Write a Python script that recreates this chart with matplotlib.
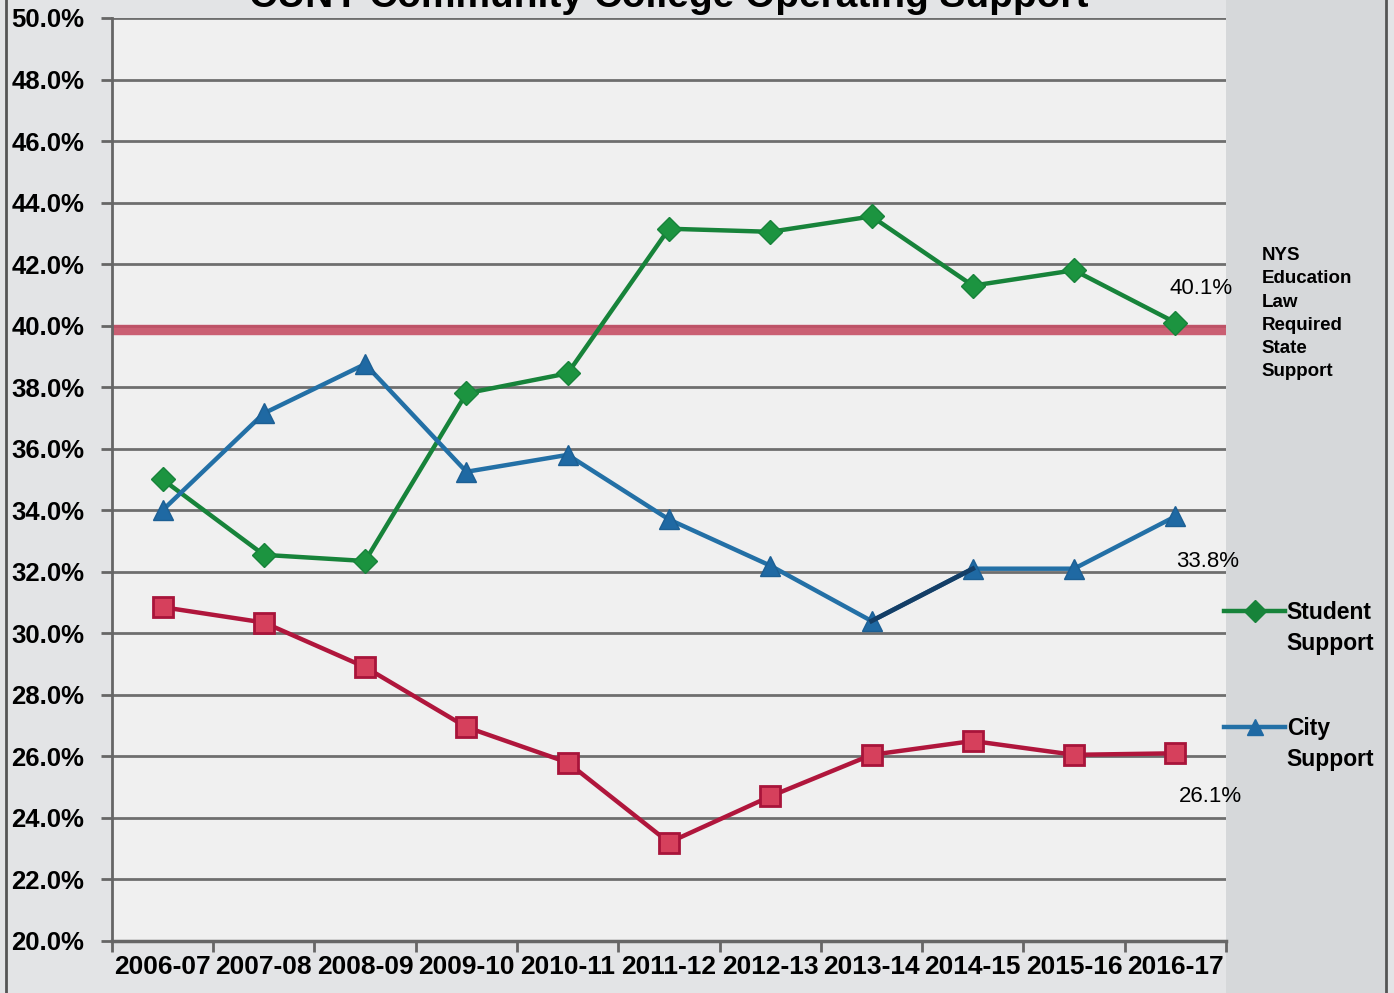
import matplotlib.pyplot as plt
import numpy as np

# data
years = ['2006-07', '2007-08', '2008-09', '2009-10', '2010-11', '2011-12',
         '2012-13', '2013-14', '2014-15', '2015-16', '2016-17']
student = [35.0, 32.55, 32.35, 37.8, 38.45, 43.15, 43.05, 43.55, 41.3, 41.8, 40.1]
city = [34.0, 37.15, 38.75, 35.25, 35.8, 33.7, 32.2, 30.4, 32.1, 32.1, 33.8]
state = [30.85, 30.35, 28.9, 26.95, 25.8, 23.2, 24.7, 26.05, 26.5, 26.05, 26.1]
required = 39.85

plt.rcParams['font.family'] = ['Liberation Sans', 'DejaVu Sans']

fig = plt.figure(figsize=(13.94, 9.93), dpi=100, facecolor='#e3e4e6')
ax = fig.add_axes([0.0803, 0.0524, 0.7992, 0.9295])
ax.set_facecolor('#f0f0f0')
# grey strip right of the plot
fig.patches.append(plt.Rectangle((0.8795, 0.0), 0.115, 1.0, transform=fig.transFigure,
                                 facecolor='#d6d8da', edgecolor='none', zorder=-1))
# outer frame lines
fig.add_artist(plt.Line2D([0.004, 0.004], [0, 1], color='#555555', lw=2))
fig.add_artist(plt.Line2D([0.994, 0.994], [0, 1], color='#555555', lw=2))

x = np.arange(len(years))
ax.set_xlim(-0.5, len(years) - 0.5)
ax.set_ylim(20, 50)
ax.set_yticks(np.arange(20, 50.1, 2))
ax.set_yticklabels(['%.1f%%' % v for v in np.arange(20, 50.1, 2)])
ax.yaxis.grid(True, color='#6e6e6e', lw=2)
ax.set_axisbelow(True)

ax.set_xticks(x)
ax.set_xticklabels(years)
ax.set_xticks(np.arange(-0.5, len(years)), minor=True)
ax.tick_params(axis='x', which='major', length=0, pad=10, labelsize=19)
ax.tick_params(axis='x', which='minor', length=8, width=2, color='#666666')
ax.tick_params(axis='y', length=8, width=2, color='#666666', labelsize=18.5, pad=12)
for lbl in ax.get_xticklabels() + ax.get_yticklabels():
    lbl.set_fontweight('bold')

for s in ['top', 'right']:
    ax.spines[s].set_visible(False)
ax.spines['left'].set_color('#666666')
ax.spines['left'].set_linewidth(2)
ax.spines['bottom'].set_color('#666666')
ax.spines['bottom'].set_linewidth(2.5)

# required state support line
ax.axhline(required, color='#c64f66', lw=7.5, alpha=0.9, zorder=2)

ax.plot(x, student, color='#17833a', lw=3.2, marker='D', ms=12,
        mfc='#1c9440', mec='#17833a', zorder=4)
ax.plot(x, city, color='#2370a6', lw=3.2, marker='^', ms=14,
        mfc='#1f69a3', mec='#1c5f94', zorder=4)
ax.plot(x[7:9], city[7:9], color='#143e66', lw=3.4, zorder=4)
ax.plot(x, state, color='#b0163c', lw=3.2, marker='s', ms=14,
        mfc='#d6405c', mec='#a8143a', mew=2, zorder=4)

ax.text(x[-1] + 0.25, student[-1] + 1.1, '%.1f%%' % student[-1], fontsize=16,
        ha='center', va='center')
ax.text(x[-1] + 0.32, city[-1] - 1.45, '%.1f%%' % city[-1], fontsize=16,
        ha='center', va='center')
ax.text(x[-1] + 0.35, state[-1] - 1.4, '%.1f%%' % state[-1], fontsize=16,
        ha='center', va='center')

# right-hand labels
fig.text(0.905, 0.751, 'NYS\nEducation\nLaw\nRequired\nState\nSupport', fontsize=13.5,
         fontweight='bold', ha='left', va='top', linespacing=1.48)
fig.add_artist(plt.Line2D([0.878, 0.922], [0.385, 0.385], color='#17833a', lw=3.2))
fig.add_artist(plt.Line2D([0.900], [0.385], color='#17833a', marker='D', ms=11))
fig.text(0.923, 0.395, 'Student\nSupport', fontsize=16.5, fontweight='bold',
         ha='left', va='top', linespacing=1.47)
fig.add_artist(plt.Line2D([0.878, 0.922], [0.268, 0.268], color='#2370a6', lw=3.2))
fig.add_artist(plt.Line2D([0.900], [0.268], color='#1f69a3', marker='^', ms=12))
fig.text(0.923, 0.278, 'City\nSupport', fontsize=16.5, fontweight='bold',
         ha='left', va='top', linespacing=1.47)

# title, cut off at the top like the reference
fig.text(0.48, 1.003, 'CUNY Community College Operating Support', fontsize=28,
         fontweight='bold', ha='center', va='center')

fig.savefig('out.png', dpi=100, facecolor=fig.get_facecolor())
